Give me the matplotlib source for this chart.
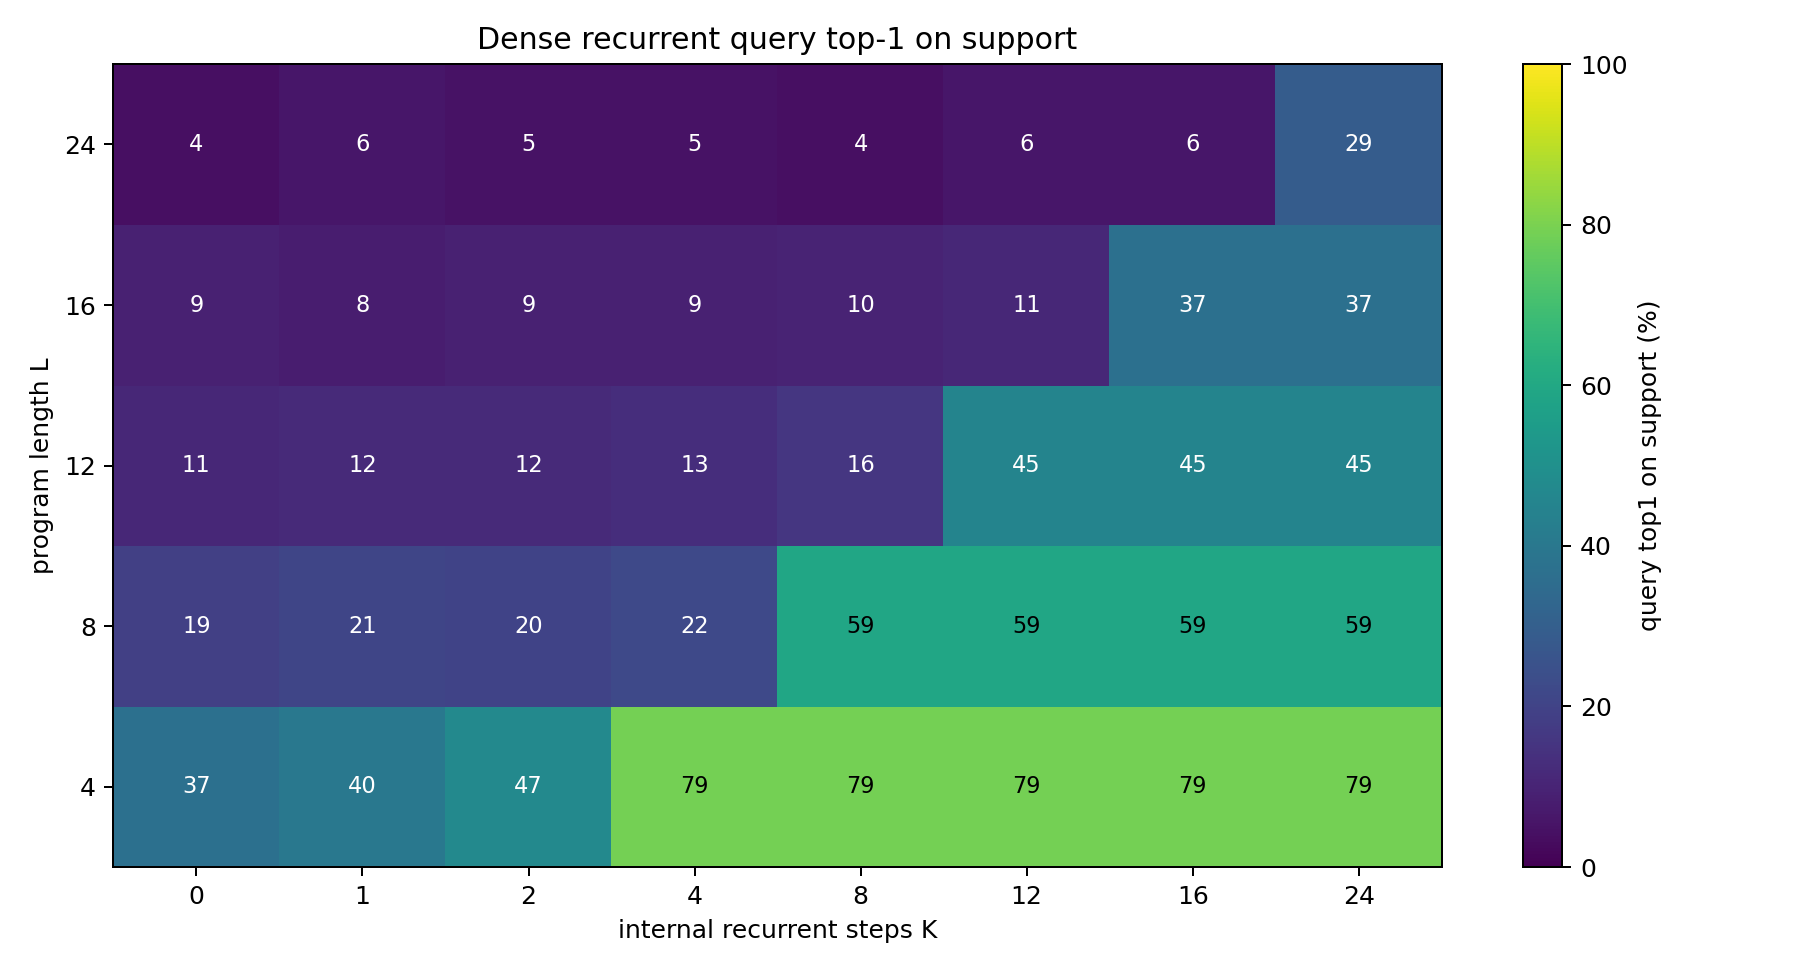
import numpy as np
import matplotlib.pyplot as plt

# pasos recurrentes K (columnas) y longitud de programa L (filas, de abajo a arriba)
steps_k = [0, 1, 2, 4, 8, 12, 16, 24]
lengths_l = [4, 8, 12, 16, 24]

# valores en % por fila (L=4 abajo ... L=24 arriba)
row_l4 = [37, 40, 47, 79, 79, 79, 79, 79]
row_l8 = [19, 21, 20, 22, 59, 59, 59, 59]
row_l12 = [11, 12, 12, 13, 16, 45, 45, 45]
row_l16 = [9, 8, 9, 9, 10, 11, 37, 37]
row_l24 = [4, 6, 5, 5, 4, 6, 6, 29]

values = np.array([row_l4, row_l8, row_l12, row_l16, row_l24])

fig = plt.figure(figsize=(10, 5.4), dpi=180)
ax = fig.add_axes([0.063, 0.108, 0.738, 0.826])
cax = fig.add_axes([0.846, 0.108, 0.022, 0.826])

im = ax.imshow(values, origin='lower', aspect='auto', cmap='viridis', vmin=0, vmax=100)
ax.set_xticks(range(len(steps_k)))
ax.set_xticklabels([str(k) for k in steps_k])
ax.set_yticks(range(len(lengths_l)))
ax.set_yticklabels([str(l) for l in lengths_l])
ax.set_xlabel('internal recurrent steps K')
ax.set_ylabel('program length L')
ax.set_title('Dense recurrent query top-1 on support')

for i in range(len(lengths_l)):
  for j in range(len(steps_k)):
    v = values[i, j]
    ax.text(j, i, str(v), ha='center', va='center', fontsize=9,
            color='black' if v > 50 else 'white')

cb = fig.colorbar(im, cax=cax)
cb.set_label('query top1 on support (%)')

plt.savefig('out.png')
plt.close()
